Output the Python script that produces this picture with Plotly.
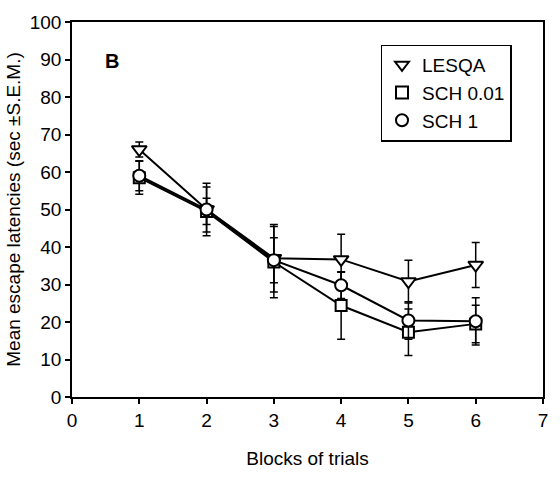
import plotly.graph_objects as go

blocks = [1, 2, 3, 4, 5, 6]
series_names = ["LESQA", "SCH 0.01", "SCH 1"]
lesqa = [66, 50, 37, 36.7, 30.8, 35.2]
lesqa_sem = [2, 7, 9, 6.7, 5.7, 6]
sch001 = [58.5, 49.5, 36, 24.4, 17.3, 19.5]
sch001_sem = [4.4, 3.5, 9.5, 9, 6.2, 5]
sch1 = [59, 50, 36.5, 29.8, 20.4, 20.2]
sch1_sem = [4, 6, 6, 3.5, 5, 6.3]

x_ticks = [0, 1, 2, 3, 4, 5, 6, 7]
y_ticks = [0, 10, 20, 30, 40, 50, 60, 70, 80, 90, 100]

values = [lesqa, sch001, sch1]
sems = [lesqa_sem, sch001_sem, sch1_sem]
symbols = ["triangle-down", "square", "circle"]
sizes = [13, 11, 12]

FONT = "Liberation Sans, Arial, Helvetica, sans-serif"

fig = go.Figure()
for name, v in zip(series_names, values):
    fig.add_trace(go.Scatter(x=blocks, y=v, mode="lines", showlegend=False,
                             line=dict(color="black", width=2), hoverinfo="skip"))
for name, v, e, sym, sz in zip(series_names, values, sems, symbols, sizes):
    fig.add_trace(go.Scatter(
        x=blocks, y=v, mode="markers", name=name,
        marker=dict(symbol=sym, size=sz, color="white",
                    line=dict(color="black", width=2)),
        error_y=dict(type="data", array=e, visible=True, color="black",
                     thickness=1.5, width=4),
    ))

fig.add_annotation(x=0.6, y=89.7, text="<b>B</b>", showarrow=False,
                   font=dict(size=20, color="black", family=FONT))

fig.update_layout(
    width=560, height=478,
    margin=dict(l=72, r=12, t=14, b=65),
    paper_bgcolor="white", plot_bgcolor="white",
    font=dict(family=FONT, size=19, color="black"),
    showlegend=True,
    legend=dict(x=0.655, y=0.94, xanchor="left", yanchor="top",
                bordercolor="black", borderwidth=1.5, bgcolor="white",
                font=dict(size=19), itemsizing="constant", itemwidth=30),
    xaxis=dict(range=[0, 7], tickvals=x_ticks, ticks="outside", ticklen=5,
               tickwidth=1.5, tickcolor="black", showline=True, linecolor="black",
               linewidth=1.5, mirror=True, showgrid=False, zeroline=False,
               title=dict(text="Blocks of trials", standoff=22,
                          font=dict(size=19))),
    yaxis=dict(range=[0, 100], tickvals=y_ticks, ticks="outside", ticklen=5,
               tickwidth=1.5, tickcolor="black", showline=True, linecolor="black",
               linewidth=1.5, mirror=True, showgrid=False, zeroline=False,
               title=dict(text="Mean escape latencies (sec ±S.E.M.)", standoff=4,
                          font=dict(size=19))),
)

fig.write_html("out.html")
